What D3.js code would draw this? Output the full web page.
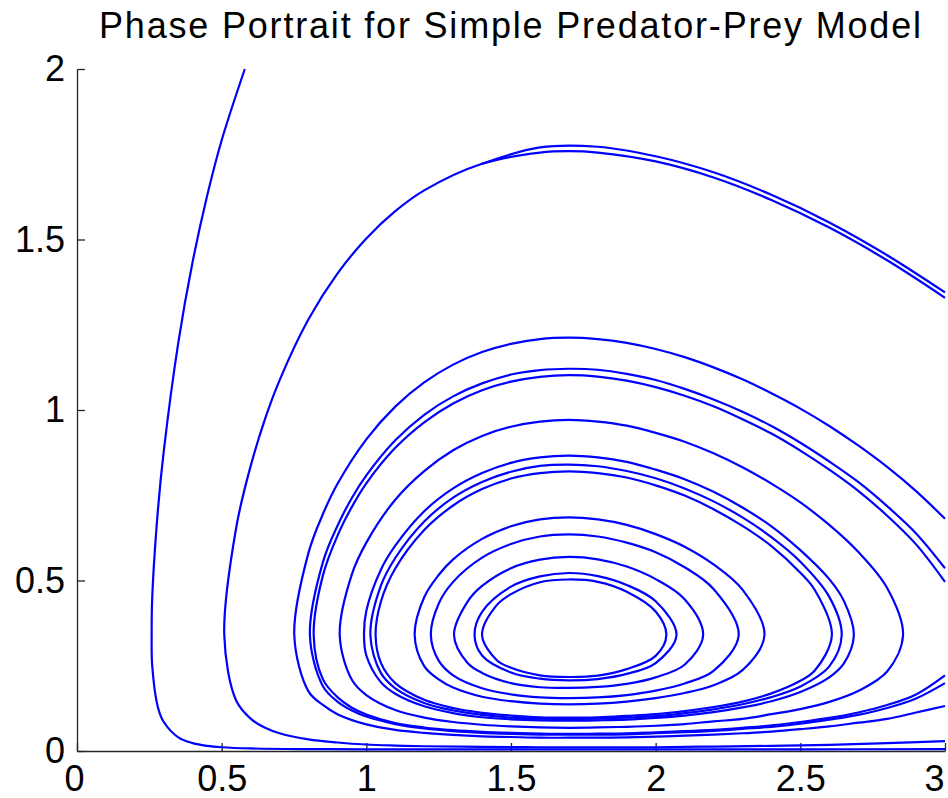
<!DOCTYPE html>
<html>
<head>
<meta charset="utf-8">
<script src="https://cdnjs.cloudflare.com/ajax/libs/d3/7.8.5/d3.min.js"></script>
<style>
  body { margin: 0; background: #fff; }
  .chart text { font-family: "Liberation Sans", Arial, sans-serif; }
</style>
</head>
<body>
<div class="chart"></div>
<script>
// tick values
var xTicks = [0, 0.5, 1, 1.5, 2, 2.5, 3];
var yTicks = [0, 0.5, 1, 1.5, 2];
var titleText = "Phase Portrait for Simple Predator-Prey Model";

// closed orbits around the equilibrium, innermost first  [prey, predator]
var orbit1 = [[1.40,0.34],[1.45,0.427],[1.5,0.46],[1.6,0.495],[1.7,0.503],[1.8,0.496],[1.9,0.467],[2.0,0.409],[2.037,0.34],
  [2.0,0.279],[1.9,0.24],[1.8,0.221],[1.7,0.217],[1.6,0.222],[1.5,0.244],[1.45,0.267]];
var orbit2 = [[1.374,0.34],[1.4,0.408],[1.5,0.482],[1.6,0.512],[1.7,0.522],[1.8,0.513],[1.9,0.487],[2.0,0.439],[2.072,0.34],
  [2.0,0.258],[1.9,0.226],[1.8,0.211],[1.7,0.207],[1.6,0.212],[1.5,0.23],[1.4,0.28]];
var orbit3 = [[1.303,0.34],[1.35,0.438],[1.4,0.484],[1.5,0.536],[1.6,0.561],[1.7,0.569],[1.8,0.562],[1.9,0.541],[2.0,0.504],[2.1,0.445],[2.164,0.34],
  [2.1,0.253],[2.0,0.216],[1.9,0.197],[1.8,0.188],[1.7,0.185],[1.6,0.187],[1.5,0.199],[1.4,0.229],[1.35,0.258]];
var orbit4 = [[1.223,0.34],[1.25,0.432],[1.3,0.496],[1.4,0.567],[1.5,0.607],[1.6,0.629],[1.7,0.635],[1.8,0.629],[1.9,0.611],[2.0,0.583],[2.1,0.539],[2.2,0.475],[2.287,0.34],
  [2.2,0.235],[2.1,0.198],[2.0,0.177],[1.9,0.164],[1.8,0.157],[1.7,0.155],[1.6,0.157],[1.5,0.166],[1.4,0.184],[1.3,0.222],[1.25,0.265]];
var orbit5 = [[1.167,0.34],[1.2,0.451],[1.25,0.516],[1.3,0.562],[1.4,0.622],[1.5,0.659],[1.6,0.679],[1.7,0.685],[1.8,0.679],[1.9,0.663],[2.0,0.636],[2.1,0.599],[2.2,0.547],[2.3,0.473],[2.376,0.34],
  [2.3,0.237],[2.2,0.193],[2.1,0.17],[2.0,0.155],[1.9,0.145],[1.8,0.139],[1.7,0.137],[1.6,0.139],[1.5,0.146],[1.4,0.159],[1.3,0.186],[1.25,0.21],[1.2,0.249]];
var orbit6 = [[1.032,0.34],[1.05,0.437],[1.1,0.535],[1.2,0.648],[1.3,0.72],[1.4,0.768],[1.5,0.799],[1.6,0.815],[1.7,0.82],[1.8,0.815],[1.9,0.802],[2.0,0.779],[2.1,0.749],[2.2,0.709],[2.3,0.66],[2.4,0.601],[2.5,0.523],[2.55,0.472],[2.609,0.34],
  [2.55,0.236],[2.5,0.206],[2.4,0.169],[2.3,0.145],[2.2,0.129],[2.1,0.117],[2.0,0.108],[1.9,0.103],[1.8,0.099],[1.7,0.098],[1.6,0.099],[1.5,0.104],[1.4,0.112],[1.3,0.126],[1.2,0.15],[1.1,0.199],[1.05,0.259]];
var orbit7 = [[1.014,0.34],[1.05,0.484],[1.1,0.566],[1.2,0.673],[1.3,0.743],[1.4,0.789],[1.5,0.819],[1.6,0.836],[1.7,0.84],[1.8,0.835],[1.9,0.821],[2.0,0.80],[2.1,0.77],[2.2,0.732],[2.3,0.685],[2.4,0.627],[2.5,0.555],[2.6,0.452],[2.643,0.34],
  [2.6,0.248],[2.5,0.189],[2.4,0.158],[2.3,0.137],[2.2,0.122],[2.1,0.111],[2.0,0.102],[1.9,0.098],[1.8,0.095],[1.7,0.094],[1.6,0.095],[1.5,0.098],[1.4,0.106],[1.3,0.119],[1.2,0.141],[1.1,0.184],[1.05,0.229]];
var orbit8 = [[0.992,0.34],[1.0,0.411],[1.05,0.531],[1.1,0.602],[1.2,0.703],[1.3,0.77],[1.4,0.815],[1.5,0.845],[1.6,0.861],[1.7,0.866],[1.8,0.861],[1.9,0.848],[2.0,0.825],[2.1,0.797],[2.2,0.76],[2.3,0.714],[2.4,0.659],[2.5,0.589],[2.6,0.504],[2.65,0.441],[2.685,0.34],
  [2.65,0.256],[2.6,0.216],[2.5,0.173],[2.4,0.146],[2.3,0.128],[2.2,0.114],[2.1,0.104],[2.0,0.097],[1.9,0.092],[1.8,0.09],[1.7,0.089],[1.6,0.09],[1.5,0.093],[1.4,0.099],[1.3,0.111],[1.2,0.131],[1.1,0.168],[1.05,0.202],[1.0,0.28]];
var orbit9 = [[0.908,0.34],[0.95,0.518],[1.0,0.611],[1.1,0.737],[1.2,0.821],[1.3,0.882],[1.4,0.924],[1.5,0.951],[1.6,0.966],[1.7,0.971],[1.8,0.966],[1.9,0.954],[2.0,0.933],[2.1,0.907],[2.2,0.873],[2.3,0.832],[2.4,0.784],[2.5,0.729],[2.6,0.663],[2.7,0.584],[2.8,0.478],[2.855,0.34],
  [2.8,0.233],[2.7,0.176],[2.6,0.144],[2.5,0.123],[2.4,0.108],[2.3,0.094],[2.2,0.087],[2.1,0.079],[2.0,0.074],[1.9,0.071],[1.8,0.069],[1.7,0.068],[1.6,0.069],[1.5,0.072],[1.4,0.077],[1.3,0.085],[1.2,0.098],[1.1,0.12],[1.0,0.164],[0.95,0.209]];

// larger orbits that leave the window through the right or top edge
var orbit10 = [[3.0,0.536],[2.9,0.638],[2.8,0.718],[2.7,0.789],[2.6,0.849],[2.5,0.904],[2.4,0.953],[2.3,0.995],[2.2,1.031],[2.1,1.062],[2.0,1.088],[1.9,1.106],[1.8,1.118],[1.7,1.121],[1.6,1.117],[1.5,1.104],[1.4,1.078],[1.3,1.04],[1.2,0.986],[1.1,0.911],[1.0,0.808],[0.95,0.742],[0.9,0.66],[0.85,0.554],[0.805,0.34],
  [0.85,0.19],[0.9,0.145],[0.95,0.119],[1.0,0.101],[1.1,0.079],[1.2,0.066],[1.3,0.058],[1.4,0.053],[1.5,0.05],[1.6,0.048],[1.7,0.048],[1.8,0.048],[1.9,0.049],[2.0,0.052],[2.1,0.055],[2.2,0.059],[2.3,0.065],[2.4,0.071],[2.5,0.08],[2.6,0.092],[2.7,0.106],[2.8,0.126],[2.9,0.154],[3.0,0.199]];
var orbit10b = [[3.0,0.496],[2.9,0.606],[2.8,0.69],[2.7,0.763],[2.6,0.825],[2.5,0.881],[2.4,0.931],[2.3,0.973],[2.2,1.011],[2.1,1.042],[2.0,1.067],[1.9,1.086],[1.8,1.098],[1.7,1.102],[1.6,1.097],[1.5,1.083],[1.4,1.058],[1.3,1.019],[1.2,0.964],[1.1,0.889],[1.0,0.785],[0.95,0.716],[0.9,0.631],[0.85,0.515],[0.818,0.34],
  [0.85,0.21],[0.9,0.158],[0.95,0.127],[1.0,0.107],[1.1,0.082],[1.2,0.069],[1.3,0.061],[1.4,0.056],[1.5,0.053],[1.6,0.051],[1.7,0.05],[1.8,0.051],[1.9,0.052],[2.0,0.055],[2.1,0.058],[2.2,0.062],[2.3,0.068],[2.4,0.075],[2.5,0.085],[2.6,0.097],[2.7,0.113],[2.8,0.135],[2.9,0.166],[3.0,0.222]];
var orbit11 = [[3.0,0.681],[2.9,0.762],[2.8,0.833],[2.7,0.896],[2.6,0.953],[2.5,1.004],[2.4,1.049],[2.3,1.09],[2.2,1.125],[2.1,1.155],[2.0,1.179],[1.9,1.197],[1.8,1.208],[1.7,1.212],[1.6,1.208],[1.5,1.194],[1.4,1.17],[1.3,1.133],[1.2,1.081],[1.1,1.01],[1.0,0.914],[0.9,0.783],[0.85,0.695],[0.8,0.581],[0.751,0.34],
  [0.8,0.175],[0.85,0.135],[0.9,0.108],[1.0,0.078],[1.1,0.062],[1.2,0.053],[1.3,0.047],[1.4,0.043],[1.5,0.041],[1.6,0.039],[1.7,0.039],[1.8,0.039],[1.9,0.04],[2.0,0.042],[2.1,0.045],[2.2,0.048],[2.3,0.052],[2.4,0.057],[2.5,0.064],[2.6,0.072],[2.7,0.083],[2.8,0.094],[2.9,0.113],[3.0,0.132]];
var orbit12 = [[3.0,1.329],[2.8,1.439],[2.6,1.535],[2.4,1.616],[2.2,1.682],[2.0,1.729],[1.8,1.755],[1.7,1.759],[1.6,1.755],[1.4,1.722],[1.2,1.644],[1.1,1.583],[1.0,1.503],[0.9,1.4],[0.8,1.266],[0.7,1.087],[0.65,0.974],[0.6,0.835],[0.55,0.654],[0.509,0.34],
  [0.55,0.148],[0.6,0.095],[0.65,0.068],[0.7,0.052],[0.8,0.034],[0.9,0.025],[1.0,0.019],[1.1,0.016],[1.2,0.014],[1.4,0.012],[1.6,0.011],[1.8,0.011],[2.0,0.011],[2.2,0.013],[2.4,0.015],[2.6,0.018],[2.8,0.023],[3.0,0.029]];
var orbit12b = [[1.4,1.722],[1.6,1.77],[1.8,1.772],[2.0,1.744],[2.2,1.697],[2.4,1.631],[2.6,1.55],[2.8,1.454],[3.0,1.345]];
var orbit13 = [[0.58,2.0],[0.5,1.791],[0.45,1.629],[0.4,1.436],[0.35,1.197],[0.3,0.88],[0.28,0.71],[0.26,0.45],[0.258,0.34],
  [0.26,0.25],[0.28,0.127],[0.3,0.085],[0.35,0.04],[0.4,0.023],[0.45,0.015],[0.5,0.011],[0.6,0.0075],[0.8,0.0055],[1.0,0.005],[1.5,0.0045],[2.0,0.0045],[2.5,0.005],[3.0,0.0055]];

var closedOrbits = [orbit1, orbit2, orbit3, orbit4, orbit5, orbit6, orbit7, orbit8, orbit9];
var openOrbits = [orbit10, orbit10b, orbit11, orbit12, orbit12b, orbit13];

// SVG size and the axes box
var svgWidth = 948;
var svgHeight = 798;
var margin = { top: 69, right: 3, bottom: 47, left: 77 };
var width = svgWidth - margin.left - margin.right;
var height = svgHeight - margin.top - margin.bottom;

var svg = d3.select(".chart")
  .append("svg")
  .attr("width", svgWidth)
  .attr("height", svgHeight);

var chartGroup = svg.append("g")
  .attr("transform", `translate(${margin.left}, ${margin.top})`);

var xLinearScale = d3.scaleLinear().domain([0, 3]).range([0, width]);
var yLinearScale = d3.scaleLinear().domain([0, 2]).range([height, 0]);

// keep the trajectories inside the axes
chartGroup.append("clipPath")
  .attr("id", "plotClip")
  .append("rect")
  .attr("x", 0).attr("y", -1)
  .attr("width", width + 2)
  .attr("height", height + 1);

var closedLine = d3.line()
  .x(d => xLinearScale(d[0]))
  .y(d => yLinearScale(d[1]))
  .curve(d3.curveCatmullRomClosed.alpha(0.5));

var openLine = d3.line()
  .x(d => xLinearScale(d[0]))
  .y(d => yLinearScale(d[1]))
  .curve(d3.curveCatmullRom.alpha(0.5));

// axes: ticks point inward, no box
var bottomAxis = d3.axisBottom(xLinearScale)
  .tickValues(xTicks)
  .tickFormat(d => String(d))
  .tickSizeInner(-8)
  .tickSizeOuter(0)
  .tickPadding(14);

var leftAxis = d3.axisLeft(yLinearScale)
  .tickValues(yTicks)
  .tickFormat(d => String(d))
  .tickSizeInner(-8)
  .tickSizeOuter(0)
  .tickPadding(12);

var xAxis = chartGroup.append("g")
  .attr("transform", `translate(0, ${height})`)
  .call(bottomAxis);

var yAxis = chartGroup.append("g")
  .call(leftAxis);

[xAxis, yAxis].forEach(function(ax) {
  ax.select(".domain").attr("stroke", "#262626").attr("stroke-width", 1.3);
  ax.selectAll(".tick line").attr("stroke", "#262626").attr("stroke-width", 1.3);
  ax.selectAll(".tick text")
    .attr("fill", "#000")
    .style("font-size", "36px")
    .style("font-family", "'Liberation Sans', Arial, sans-serif");
});

// end labels on the x axis sit a little left of their ticks
xAxis.selectAll(".tick text")
  .attr("dx", d => d === 0 ? -3 : (d === 3 ? -11 : 0));

// trajectories drawn over the axis lines
var curves = chartGroup.append("g").attr("clip-path", "url(#plotClip)");

curves.selectAll(".closed")
  .data(closedOrbits)
  .enter()
  .append("path")
  .attr("class", "closed")
  .attr("d", closedLine)
  .attr("fill", "none")
  .attr("stroke", "#0000ff")
  .attr("stroke-width", 2.2);

curves.selectAll(".open")
  .data(openOrbits)
  .enter()
  .append("path")
  .attr("class", "open")
  .attr("d", openLine)
  .attr("fill", "none")
  .attr("stroke", "#0000ff")
  .attr("stroke-width", 2.2);

// title, spread to the width it has in the picture
svg.append("text")
  .attr("x", 510)
  .attr("y", 38)
  .attr("text-anchor", "middle")
  .attr("textLength", 822)
  .attr("lengthAdjust", "spacing")
  .style("font-size", "36px")
  .attr("fill", "#000")
  .text(titleText);
</script>
</body>
</html>
